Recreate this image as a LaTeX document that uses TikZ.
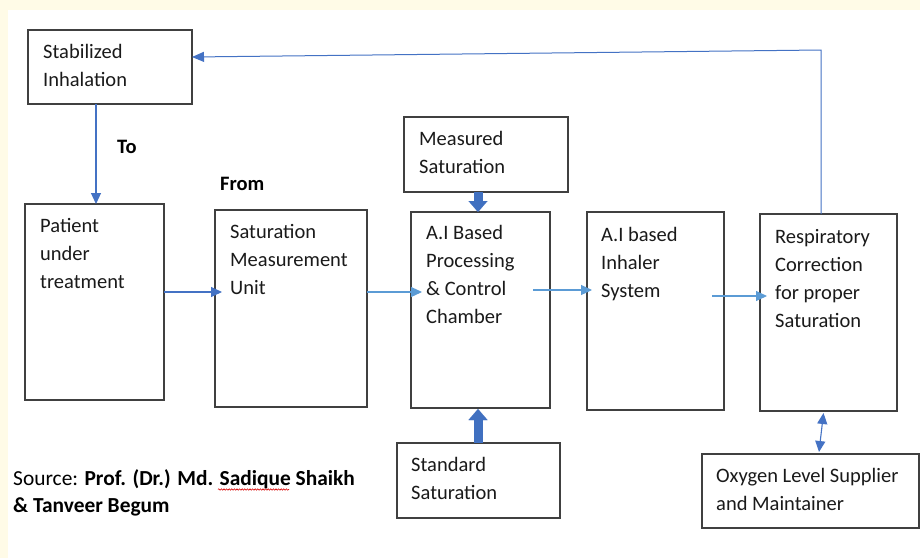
\documentclass[tikz,border=0pt]{standalone}
\usepackage{fontspec}
\setmainfont{Carlito}
\usetikzlibrary{arrows.meta,decorations.pathmorphing}
\definecolor{cream}{HTML}{FFFBE7}
\definecolor{arrowblue}{HTML}{4472C4}
\definecolor{lightblue}{HTML}{5B9BD5}
\definecolor{blockblue}{HTML}{4070C0}
\definecolor{boxline}{HTML}{404040}
\definecolor{txtcol}{HTML}{1A1A1A}
\begin{document}
\begin{tikzpicture}[x=1pt,y=-1pt,
  box/.style={draw=boxline, line width=1.1pt, anchor=north west, inner sep=0pt, outer sep=0pt},
  txt/.style={anchor=north west, inner sep=0pt, align=left, text=txtcol, font=\fontsize{20.5}{28}\selectfont},
  lbl/.style={anchor=base west, inner sep=0pt, text=black, font=\fontsize{20.5}{28}\selectfont\bfseries},
  arr/.style={draw=arrowblue, line width=1.1pt, -{Triangle[width=10pt,length=11pt]}},
  arrl/.style={arr, draw=lightblue},
  dblarr/.style={draw=arrowblue, line width=1.1pt, {Triangle[width=10pt,length=11pt]}-{Triangle[width=10pt,length=11pt]}},
  blockarr/.style={draw=blockblue, line width=9pt, -{Triangle[width=19pt,length=11pt,line width=0.01pt]}}
]
\fill[cream] (0,0) rectangle (920,558);
\fill[white] (8,10) rectangle (920,558);
\useasboundingbox (0,0) rectangle (920,558);

% boxes
\node[box, minimum width=164pt, minimum height=74pt] (stab) at (28,30) {};
\node[box, minimum width=139pt, minimum height=196pt] (pat) at (25,204) {};
\node[box, minimum width=152pt, minimum height=197pt] (smu) at (215,210) {};
\node[box, minimum width=164pt, minimum height=75pt] (meas) at (404,117) {};
\node[box, minimum width=139pt, minimum height=196pt] (ai) at (411,212) {};
\node[box, minimum width=163pt, minimum height=75pt] (std) at (397,443) {};
\node[box, minimum width=137pt, minimum height=198pt] (inh) at (587,212) {};
\node[box, minimum width=137pt, minimum height=197pt] (resp) at (760,214) {};
\node[box, minimum width=217pt, minimum height=74pt] (oxy) at (702,454) {};

% box texts
\node[txt] (stabt) at ([xshift=15pt,yshift=-8.4pt]stab.north west) {\strut Stabilized\\Inhalation};
\node[txt] (patt) at ([xshift=15pt,yshift=-8.4pt]pat.north west) {\strut Patient\\under\\treatment};
\node[txt] (smut) at ([xshift=15pt,yshift=-8.4pt]smu.north west) {\strut Saturation\\Measurement\\Unit};
\node[txt] (meast) at ([xshift=15pt,yshift=-8.4pt]meas.north west) {\strut Measured\\Saturation};
\node[txt] (ait) at ([xshift=15pt,yshift=-7.4pt]ai.north west) {\strut A.I Based\\Processing\\\&{} Control\\Chamber};
\node[txt] (stdt) at ([xshift=14pt,yshift=-8.4pt]std.north west) {\strut Standard\\Saturation};
\node[txt] (inht) at ([xshift=14pt,yshift=-9.4pt]inh.north west) {\strut A.I based\\Inhaler\\System};
\node[txt] (respt) at ([xshift=15pt,yshift=-9.4pt]resp.north west) {\strut Respiratory\\Correction\\for proper\\Saturation};
\node[txt] (oxyt) at ([xshift=14pt,yshift=-8.4pt]oxy.north west) {\strut Oxygen Level Supplier\\and Maintainer};

% labels
\node[lbl] (to) at (117,153) {To};
\node[lbl] (from) at (220,190) {From};
\node[txt, text=black, font=\fontsize{21.4}{27.5}\selectfont] (src) at (13,465.8) {\strut Source: \textbf{Prof. (Dr.) Md. Sadique Shaikh}\\\textbf{\&{} Tanveer Begum}};
\draw[red!85!black, line width=0.6pt, decorate, decoration={snake, amplitude=0.7pt, segment length=2.6pt}] (218,489.5) -- (289,489.5);

% connectors
\coordinate (rowa) at (0,292);
\coordinate (rowb) at (0,290);
\coordinate (rowc) at (0,296);
\coordinate (corner) at (821,50);
\draw[arr] ([xshift=-14pt]stab.south) -- ([xshift=-14pt]stab.south |- pat.north);
\draw[arr] (pat.east |- rowa) -- ([xshift=7pt]smu.west |- rowa);
\draw[arrl] (smu.east |- rowa) -- ([xshift=11pt]ai.west |- rowa);
\draw[arrl] ([xshift=-17pt]ai.east |- rowb) -- ([xshift=5pt]inh.west |- rowb);
\draw[arrl] ([xshift=-12pt]inh.east |- rowc) -- ([xshift=7pt]resp.west |- rowc);
\draw[arrowblue, line width=1pt, -{Triangle[width=10pt,length=12pt]}] (resp.north -| corner) -- (corner) -- ([yshift=10pt]stab.east);
\draw[blockarr] ([xshift=-2.5pt]ai.north |- meas.south) -- ([xshift=-2.5pt]ai.north);
\draw[blockarr] ([xshift=-2.5pt]ai.south |- std.north) -- ([xshift=-2.5pt,yshift=-1pt]ai.south);
\draw[dblarr] ([xshift=-5pt,yshift=-2pt]resp.south) -- ([xshift=8.5pt,yshift=2pt]oxy.north);
\end{tikzpicture}
\end{document}
